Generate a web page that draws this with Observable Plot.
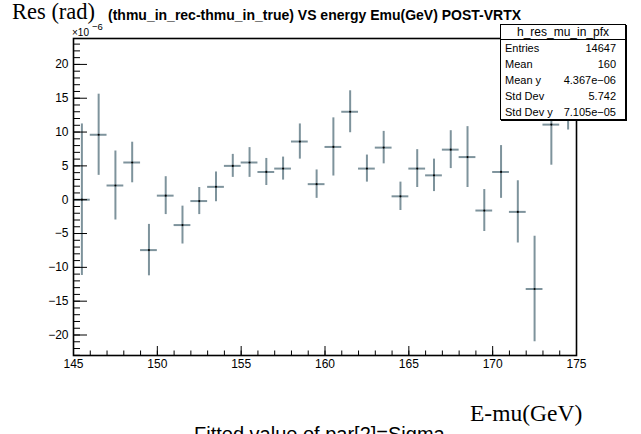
<!DOCTYPE html>
<html>
<head>
<meta charset="utf-8">
<script src="https://cdn.jsdelivr.net/npm/d3@7"></script>
<script src="https://cdn.jsdelivr.net/npm/@observablehq/plot@0.6"></script>
<style>
  body { margin: 0; background: white; }
  #wrap { position: relative; width: 641px; height: 434px; overflow: hidden; background: white; }
  #wrap svg { position: absolute; left: 0; top: 0; }
  .t { position: absolute; white-space: nowrap; line-height: 1; color: black; }
  .sans { font-family: "Liberation Sans", Arial, Helvetica, sans-serif; }
  .serif { font-family: "Liberation Serif", "Times New Roman", serif; }
  #stats { position: absolute; left: 500px; top: 24px; width: 124px; height: 94px;
           border: 1px solid black; background: white; box-shadow: 1px 1px 0 black; }
</style>
</head>
<body>
<div id="wrap"></div>
<script>
// ---- data (values in units of 1e-6 rad) ----
const binCenters = [145.5,146.5,147.5,148.5,149.5,150.5,151.5,152.5,153.5,154.5,
                    155.5,156.5,157.5,158.5,159.5,160.5,161.5,162.5,163.5,164.5,
                    165.5,166.5,167.5,168.5,169.5,170.5,171.5,172.5,173.5,174.5];
const resValues  = [0.0, 9.6, 2.1, 5.5, -7.45, 0.6, -3.75, -0.2, 1.9, 5.0,
                    5.5, 4.1, 4.6, 8.6, 2.3, 7.8, 13.0, 4.6, 7.7, 0.5,
                    4.6, 3.6, 7.4, 6.3, -1.6, 4.1, -1.8, -13.2, 11.1, 13.5];
const resErrors  = [11.2, 6.0, 5.1, 3.0, 3.8, 2.8, 2.8, 2.0, 2.2, 1.7,
                    2.2, 2.0, 1.7, 2.6, 2.1, 4.3, 3.1, 2.0, 2.4, 2.1,
                    2.8, 2.4, 2.8, 4.5, 3.1, 3.9, 4.6, 7.8, 6.0, 3.2];
const binHalfWidth = 0.5;
const xMajorTicks = [145, 150, 155, 160, 165, 170, 175];
const xMinorTicks = d3.range(145, 176, 1);
const yMajorTicks = [-20, -15, -10, -5, 0, 5, 10, 15, 20];
const yMinorTicks = d3.range(-23, 24, 1);
const xDomain = [145, 175];
const yDomain = [-23.03, 23.83];

const statsTitle = "h_res_mu_in_pfx";
const statLabels = ["Entries", "Mean", "Mean y", "Std Dev", "Std Dev y"];
const statValues = ["14647", "160", "4.367e\u221206", "5.742", "7.105e\u221205"];

const yAxisTitle = "Res (rad)";
const xAxisTitle = "E-mu(GeV)";
const plotTitle = "(thmu_in_rec-thmu_in_true) VS energy Emu(GeV) POST-VRTX";
const bottomTitle = "Fitted value of par[2]=Sigma";

const data = binCenters.map((x, i) => ({x, y: resValues[i], e: resErrors[i]}));
const barColor = "#7e939c";

const chart = Plot.plot({
  width: 641, height: 434,
  marginLeft: 73, marginRight: 65, marginTop: 38, marginBottom: 79,
  x: {domain: xDomain},
  y: {domain: yDomain},
  style: {fontFamily: "Liberation Sans, Arial, sans-serif", fontSize: "12px", background: "white", color: "black"},
  marks: [
    Plot.ruleX(data, {x: "x", y1: d => d.y - d.e, y2: d => d.y + d.e, stroke: barColor, strokeWidth: 2, clip: true}),
    Plot.ruleY(data, {y: "y", x1: d => d.x - binHalfWidth, x2: d => d.x + binHalfWidth, stroke: barColor, strokeWidth: 2, clip: true}),
    Plot.dot(data, {x: "x", y: "y", r: 1.1, fill: "black", stroke: null}),
    Plot.axisX({ticks: xMinorTicks, tickSize: -4.5, tickFormat: () => "", label: null, stroke: "black"}),
    Plot.axisX({ticks: xMajorTicks, tickSize: -9, tickFormat: () => "", label: null, stroke: "black"}),
    Plot.axisX({ticks: xMajorTicks, tickSize: 0, tickPadding: 4, label: null, fontSize: 12}),
    Plot.axisY({ticks: yMinorTicks, tickSize: -7, tickFormat: () => "", label: null, stroke: "black"}),
    Plot.axisY({ticks: yMajorTicks, tickSize: -14, tickFormat: () => "", label: null, stroke: "black"}),
    Plot.axisY({ticks: yMajorTicks, tickSize: 0, tickPadding: 5, label: null, fontSize: 12}),
    Plot.frame({stroke: "black", strokeWidth: 1.6})
  ]
});

const wrap = document.getElementById("wrap");
wrap.appendChild(chart);

// place text by baseline
function place(parent, text, {x, baseline, size, cls, weight = "normal", anchor = "start", parentWidth = 641}) {
  const el = document.createElement("div");
  el.className = "t " + cls;
  el.textContent = text;
  el.style.fontSize = size + "px";
  el.style.fontWeight = weight;
  const asc = cls === "serif" ? 0.8375 : 0.8465;
  el.style.top = (baseline - asc * size) + "px";
  if (anchor === "end") el.style.right = (parentWidth - x) + "px";
  else el.style.left = x + "px";
  parent.appendChild(el);
  return el;
}

place(wrap, yAxisTitle, {x: 12, baseline: 20, size: 22.5, cls: "serif"});
place(wrap, plotTitle, {x: 108, baseline: 20, size: 14, cls: "sans", weight: "bold"});
place(wrap, "\u00d710", {x: 72, baseline: 36.5, size: 10, cls: "sans"});
place(wrap, "\u22126", {x: 92, baseline: 30, size: 9.5, cls: "sans"});
place(wrap, xAxisTitle, {x: 470, baseline: 421.5, size: 23.5, cls: "serif"});
place(wrap, bottomTitle, {x: 194, baseline: 441, size: 20, cls: "sans"});

// stats box
const stats = document.createElement("div");
stats.id = "stats";
wrap.appendChild(stats);
const sep = document.createElement("div");
sep.style.cssText = "position:absolute;left:0;top:14px;width:124px;height:0;border-top:1px solid black;";
stats.appendChild(sep);
const hdr = place(stats, statsTitle, {x: 0, baseline: 11.5, size: 12, cls: "sans"});
hdr.style.left = "0px"; hdr.style.width = "124px"; hdr.style.textAlign = "center";
const rowBaselines = [27, 43, 59, 75, 91];
statLabels.forEach((lab, i) => {
  place(stats, lab, {x: 4, baseline: rowBaselines[i], size: 11, cls: "sans"});
  place(stats, statValues[i], {x: 115, baseline: rowBaselines[i], size: 11, cls: "sans", anchor: "end", parentWidth: 124});
});
</script>
</body>
</html>
